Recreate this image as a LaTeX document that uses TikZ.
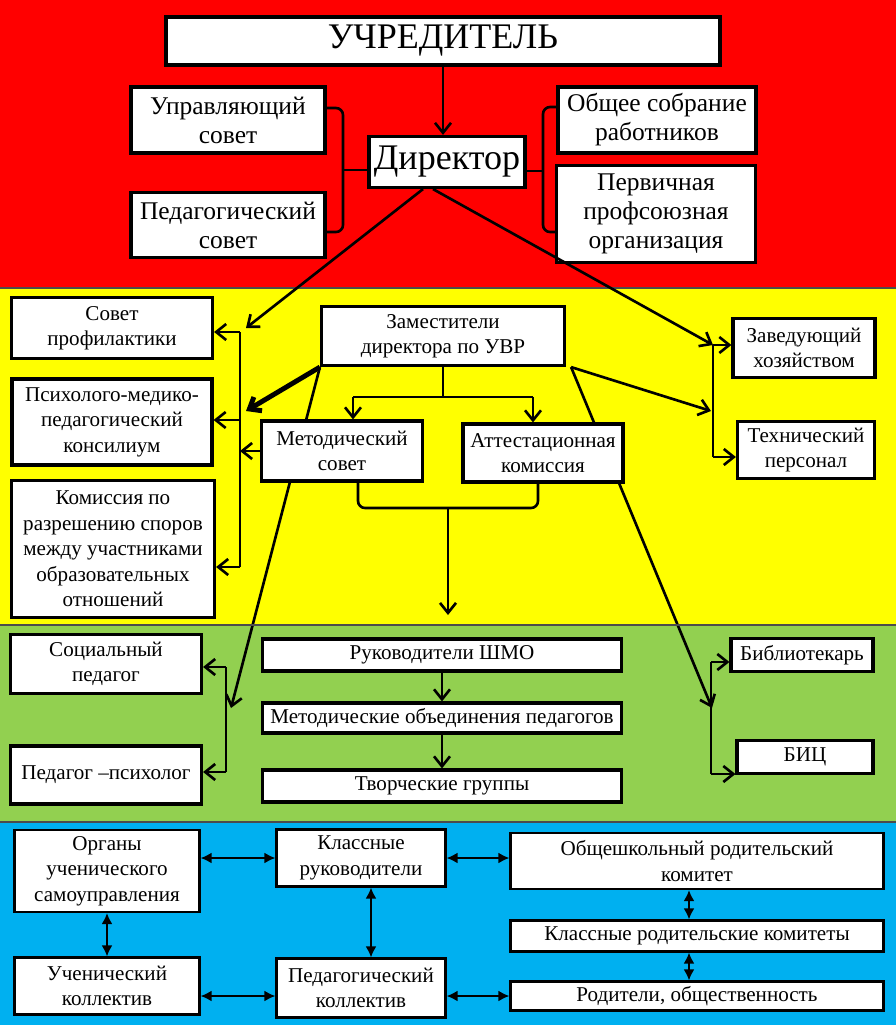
\documentclass[tikz,border=0pt]{standalone}
\usepackage{fontspec}
\setmainfont{Liberation Serif}
\usetikzlibrary{arrows.meta}
\pgfdeclarelayer{bands}
\pgfdeclarelayer{wires}
\pgfsetlayers{bands,wires,main}
\definecolor{redband}{HTML}{FF0000}
\definecolor{yelband}{HTML}{FFFF00}
\definecolor{grnband}{HTML}{92D050}
\definecolor{bluband}{HTML}{00B0F0}
\tikzset{
  box/.style={draw, line width=1.8pt, fill=white, inner sep=1pt, align=center,
    font=\fontsize{12}{14.5}\selectfont},
  redbox/.style={box, font=\fontsize{14.5}{16.5}\selectfont},
  bigbox/.style={box, font=\fontsize{20.5}{24}\selectfont},
  bluebox/.style={box, line width=1.2pt},
  sz/.style 2 args={minimum width=#1*0.02cm, minimum height=#2*0.02cm},
  con/.style={line width=1.5pt},
  dbl/.style={{Latex[length=2.2mm,width=2.2mm]}-{Latex[length=2.2mm,width=2.2mm]}, line width=1.3pt}
}
\begin{document}
\begin{tikzpicture}[x=0.02cm, y=-0.02cm,
  >={Straight Barb[length=2mm,width=3.2mm]}]
\useasboundingbox (0,0) rectangle (896,1025);
\begin{pgfonlayer}{bands}
\fill[redband] (0,0) rectangle (896,288);
\fill[yelband] (0,288) rectangle (896,625);
\fill[grnband] (0,625) rectangle (896,822);
\fill[bluband] (0,822) rectangle (896,1025);
\end{pgfonlayer}
\draw[black!70, line width=0.6pt] (0,288) -- (896,288) (0,625) -- (896,625) (0,822) -- (896,822);

% red band
\node[bigbox, sz={554}{48}] (uchr) at (443,41) {УЧРЕДИТЕЛЬ};
\node[redbox, sz={194}{66}] (upr) at (228,120) {Управляющий\\совет};
\node[redbox, sz={194}{65}] (pedsov) at (228,225) {Педагогический\\совет};
\node[bigbox, sz={156}{51}] (dir) at (447,162) {Директор};
\node[redbox, sz={198}{66}] (obsh) at (657,120) {Общее собрание\\работников};
\node[redbox, sz={199}{97}] (perv) at (656,214) {Первичная\\профсоюзная\\организация};

% yellow band
\node[box, sz={201}{61}] (sovprof) at (112,328) {Совет\\профилактики};
\node[box, sz={200}{86}] (pmpk) at (112,422) {Психолого-медико-\\педагогический\\консилиум};
\node[box, sz={203}{137}] (komis) at (113,549) {Комиссия по\\разрешению споров\\между участниками\\образовательных\\отношений};
\node[box, sz={243}{59}] (zam) at (443,336) {Заместители\\директора по УВР};
\node[box, sz={161}{60}] (metsov) at (342,451) {Методический\\совет};
\node[box, sz={160}{58}] (attest) at (543,453) {Аттестационная\\комиссия};
\node[box, sz={142}{59}] (zavhoz) at (804,348) {Заведующий\\хозяйством};
\node[box, sz={137}{57}] (tehper) at (806,450) {Технический\\персонал};

% green band
\node[box, sz={191}{59}] (socped) at (106,664) {Социальный\\педагог};
\node[box, sz={191}{58}] (pedpsy) at (106,775) {Педагог –психолог};
\node[box, sz={359}{32}] (rukshmo) at (442,655) {Руководители ШМО};
\node[box, sz={359}{30}] (metob) at (442,718) {Методические объединения педагогов};
\node[box, sz={359}{32}] (tvorch) at (442,786) {Творческие группы};
\node[box, sz={142}{33}] (bibl) at (802,655) {Библиотекарь};
\node[box, sz={136}{33}] (bic) at (805,757) {БИЦ};

% blue band
\node[bluebox, sz={185}{82}] (organy) at (107,871) {Органы\\ученического\\самоуправления};
\node[bluebox, sz={169}{57}] (klruk) at (361,858) {Классные\\руководители};
\node[bluebox, sz={373}{56}] (obshrod) at (697,861) {Общешкольный родительский\\комитет};
\node[bluebox, sz={373}{31}] (klrod) at (697,936) {Классные родительские комитеты};
\node[bluebox, sz={373}{29}] (rodobsh) at (697,996) {Родители, общественность};
\node[bluebox, sz={185}{57}] (uchkol) at (107,986) {Ученический\\коллектив};
\node[bluebox, sz={169}{59}] (pedkol) at (361,988) {Педагогический\\коллектив};

% bus points
\coordinate (lbt) at (343,108);
\coordinate (lbb) at (343,232);
\coordinate (lbm) at (343,170);
\coordinate (rbt) at (543,107);
\coordinate (rbb) at (543,232);
\coordinate (rbm) at (543,171);
\coordinate (ly-top) at (240,332);
\coordinate (ly-mid) at (240,420);
\coordinate (ly-bot) at (240,567);
\coordinate (ly-in1) at (246,328);
\coordinate (ly-in2) at (246,411);
\coordinate (ry-top) at (713,345);
\coordinate (ry-bot) at (713,457);
\coordinate (ry-in2) at (711,411);
\coordinate (fk) at (443,397);
\coordinate (fkl) at (353,397);
\coordinate (fkr) at (533,397);
\coordinate (mgl) at (358,508);
\coordinate (mgr) at (538,508);
\coordinate (mg) at (448,508);
\coordinate (mgend) at (448,615);
\coordinate (lg-top) at (226,667);
\coordinate (lg-bot) at (226,772);
\coordinate (lg-in) at (231,708);
\coordinate (rg-top) at (711,662);
\coordinate (rg-bot) at (711,774);
\coordinate (rg-in) at (712,708);

% red links
\draw[con, ->] (uchr.south) -- (uchr.south |- dir.north);
\draw[con, rounded corners=4pt] (upr.east |- lbt) -- (lbt) -- (lbb) -- (pedsov.east |- lbb);
\draw[con] (lbm) -- (dir.west |- lbm);
\draw[con, rounded corners=4pt] (obsh.west |- rbt) -- (rbt) -- (rbb) -- (perv.west |- rbb);
\draw[con] (dir.east |- rbm) -- (rbm);
\draw[con, ->] ([xshift=-0.48cm]dir.south) -- (ly-in1);
\draw[con, ->] ([xshift=-0.28cm]dir.south) -- (ry-top);

% yellow links
\draw[con] (ly-top) -- (ly-bot);
\draw[con, ->] (ly-top) -- (ly-top -| sovprof.east);
\draw[con, ->] (ly-mid) -- (ly-mid -| pmpk.east);
\draw[con, ->] (ly-bot) -- (ly-bot -| komis.east);
\draw[con, ->] (metsov.west) -- (metsov.west -| ly-top);
\draw[->, line width=2.8pt] (zam.south west) -- (ly-in2);
\draw[con] (ry-top) -- (ry-bot);
\draw[con, ->] (ry-top) -- (ry-top -| zavhoz.west);
\draw[con, ->] (ry-bot) -- (ry-bot -| tehper.west);
\draw[con, ->] ([xshift=0.1cm]zam.south east) -- (ry-in2);
\draw[con] (zam.south) -- (fk);
\draw[con] (fkl) -- (fkr);
\draw[con, ->] (fkl) -- (fkl |- metsov.north);
\draw[con, ->] (fkr) -- (fkr |- attest.north);
\draw[con, rounded corners=4pt] (mgl |- metsov.south) -- (mgl) -- (mgr) -- (mgr |- attest.south);
\draw[con, ->] (mg) -- (mgend);
\begin{pgfonlayer}{wires}
\draw[con, ->] (zam.south west) -- (lg-in);
\draw[con, ->] ([xshift=0.1cm]zam.south east) -- (rg-in);
\end{pgfonlayer}

% green links
\draw[con] (lg-top) -- (lg-bot);
\draw[con, ->] (lg-top) -- (lg-top -| socped.east);
\draw[con, ->] (lg-bot) -- (lg-bot -| pedpsy.east);
\draw[con] (rg-top) -- (rg-bot);
\draw[con, ->] (rg-top) -- (rg-top -| bibl.west);
\draw[con, ->] (rg-bot) -- (rg-bot -| bic.west);
\draw[con, ->] (rukshmo) -- (metob);
\draw[con, ->] (metob) -- (tvorch);

% blue links
\draw[dbl] (organy.east |- klruk) -- (klruk.west);
\draw[dbl] (klruk.east) -- (obshrod.west |- klruk.east);
\draw[dbl] (organy) -- (uchkol);
\draw[dbl] ([xshift=0.2cm]klruk.south) -- ([xshift=0.2cm]pedkol.north);
\draw[dbl] ([xshift=-0.16cm]obshrod.south) -- ([xshift=-0.16cm]klrod.north);
\draw[dbl] ([xshift=-0.16cm]klrod.south) -- ([xshift=-0.16cm]rodobsh.north);
\draw[dbl] (uchkol.east |- rodobsh) -- (pedkol.west |- rodobsh);
\draw[dbl] (pedkol.east |- rodobsh) -- (rodobsh.west);
\end{tikzpicture}
\end{document}
